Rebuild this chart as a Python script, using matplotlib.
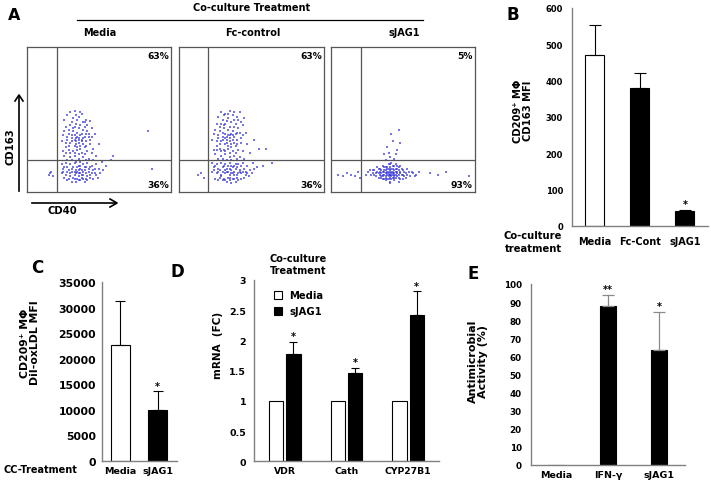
import matplotlib.pyplot as plt
from matplotlib.patches import Rectangle

plt.rcParams['font.family'] = ['DejaVu Sans']
plt.rcParams['font.weight'] = 'bold'

W, H = 711, 485

# ---- data ----
flow_groups = ['Media', 'Fc-control', 'sJAG1']
flow_upper = ['63%', '63%', '5%']
flow_lower = ['36%', '36%', '93%']
flow_gate_x = [21, 20, 20.5]
flow_gate_y = [22, 22, 22]

# flow dots, CD40 (x) vs CD163 (y), 0-100 plot units
media_pts = [
    (26, 50), (28, 53), (30, 55), (33, 56), (36, 52), (38, 54), (41, 50), (44, 49), (31, 48), (34, 47),
    (37, 46), (40, 45), (27, 45), (29, 43), (32, 42), (35, 41), (38, 40), (42, 42), (45, 44), (47, 40),
    (25, 39), (28, 38), (31, 37), (33, 36), (36, 36), (39, 37), (41, 35), (44, 36), (30, 34), (34, 33),
    (37, 32), (40, 31), (27, 31), (25, 28), (29, 29), (32, 28), (35, 29), (38, 27), (42, 28), (46, 30),
    (26, 25), (30, 24), (33, 25), (36, 23), (39, 24), (43, 23), (48, 25), (28, 22), (34, 21), (50, 33),
    (35, 38), (37, 39), (34, 35), (36, 34), (33, 39), (38, 35), (32, 44), (39, 48), (35, 50), (43, 38),
    (24, 19), (27, 20), (30, 19), (33, 20), (36, 18), (39, 19), (42, 20), (45, 18), (48, 19), (52, 21),
    (25, 16), (28, 17), (31, 16), (34, 15), (37, 16), (40, 15), (43, 16), (46, 15), (50, 16), (55, 18),
    (24, 13), (27, 12), (30, 13), (33, 12), (36, 13), (38, 12), (41, 13), (44, 12), (47, 13), (26, 10),
    (29, 9), (32, 10), (35, 9), (38, 10), (41, 9), (44, 10), (34, 7), (37, 8), (31, 7), (40, 7),
    (35, 14), (36, 15), (37, 13), (33, 14), (39, 14),
    (32, 51), (34, 53), (37, 55), (40, 48), (42, 46), (30, 46), (33, 45), (36, 44), (39, 43), (41, 40),
    (29, 40), (31, 39), (34, 37), (36, 37), (38, 36), (40, 38), (43, 40), (45, 38), (28, 36), (31, 35),
    (33, 32), (35, 31), (37, 30), (39, 33), (41, 32), (44, 33), (27, 34), (26, 42), (24, 35), (29, 32),
    (30, 27), (33, 27), (36, 26), (40, 26), (45, 27), (27, 27), (31, 22), (37, 21), (41, 22), (46, 22),
    (26, 17), (29, 15), (32, 17), (35, 17), (38, 15), (41, 17), (44, 17), (47, 16), (53, 15), (25, 14),
    (28, 14), (31, 14), (34, 13), (36, 11), (39, 12), (42, 11), (45, 13), (48, 12), (30, 11), (33, 9),
    (36, 8), (39, 9), (42, 8), (28, 8), (46, 9), (51, 13), (49, 10), (37, 18), (40, 17), (43, 14),
    (15, 12), (16, 13), (18, 11), (17, 14), (84, 42), (87, 16), (58, 22), (60, 25),
]
fc_pts = [
    (27, 52), (29, 55), (32, 54), (35, 56), (37, 53), (40, 52), (42, 55), (45, 51), (30, 50), (33, 49),
    (36, 48), (39, 47), (26, 47), (28, 45), (31, 44), (34, 43), (37, 42), (41, 44), (44, 46), (46, 41),
    (24, 40), (27, 39), (30, 38), (32, 37), (35, 37), (38, 38), (40, 36), (43, 37), (29, 35), (33, 34),
    (36, 33), (39, 32), (26, 32), (24, 29), (28, 30), (31, 29), (34, 30), (37, 28), (41, 29), (47, 33),
    (25, 26), (29, 25), (32, 26), (35, 24), (38, 25), (42, 24), (49, 27), (27, 23), (33, 22), (52, 36),
    (34, 39), (36, 40), (33, 36), (35, 35), (32, 40), (37, 36), (31, 46), (38, 50), (34, 51), (55, 30),
    (23, 20), (26, 19), (29, 20), (32, 19), (35, 20), (38, 18), (41, 19), (44, 20), (47, 18), (51, 20),
    (24, 17), (27, 16), (30, 17), (33, 16), (36, 15), (39, 16), (42, 15), (45, 16), (49, 15), (54, 17),
    (23, 14), (26, 13), (29, 12), (32, 13), (35, 12), (37, 13), (40, 12), (43, 13), (46, 12), (25, 9),
    (28, 10), (31, 9), (34, 10), (37, 9), (40, 10), (43, 9), (33, 7), (36, 6), (30, 8), (39, 7),
    (34, 14), (35, 16), (36, 13), (32, 15), (38, 14),
    (31, 53), (34, 54), (38, 55), (41, 50), (43, 48), (29, 47), (32, 47), (35, 45), (38, 45), (40, 41),
    (28, 42), (30, 41), (33, 38), (35, 39), (37, 39), (39, 40), (42, 41), (44, 39), (27, 37), (30, 36),
    (32, 33), (34, 32), (36, 31), (38, 34), (40, 33), (43, 34), (26, 35), (25, 43), (23, 36), (28, 33),
    (29, 28), (32, 28), (35, 27), (39, 27), (44, 28), (26, 29), (30, 23), (36, 22), (40, 23), (45, 23),
    (25, 18), (28, 15), (31, 18), (34, 18), (37, 17), (40, 17), (43, 18), (46, 14), (52, 16), (24, 15),
    (27, 14), (30, 14), (33, 14), (35, 10), (38, 12), (41, 13), (44, 14), (47, 13), (29, 11), (32, 8),
    (35, 8), (38, 9), (41, 8), (27, 8), (45, 10), (50, 13), (48, 11), (36, 18), (39, 19), (42, 14),
    (13, 12), (15, 13), (17, 10), (60, 30), (64, 20), (58, 18),
]
sjag_pts = [
    (26, 14), (28, 12), (30, 15), (31, 11), (33, 13), (34, 16), (35, 10), (36, 14), (37, 12), (38, 17),
    (39, 9), (40, 13), (41, 15), (42, 11), (43, 14), (44, 18), (45, 12), (46, 16), (47, 10), (48, 14),
    (49, 12), (50, 15), (51, 11), (52, 13), (54, 14), (55, 11), (57, 13), (59, 12), (61, 14), (24, 12),
    (32, 17), (36, 18), (40, 19), (42, 20), (45, 19), (48, 18), (38, 8), (41, 7), (44, 8), (47, 7),
    (39, 14), (40, 11), (42, 13), (43, 12), (41, 12), (44, 15), (37, 15), (38, 11), (46, 13), (42, 16),
    (35, 13), (33, 10), (36, 11), (39, 16), (45, 10), (47, 12), (49, 16), (52, 10), (29, 13), (27, 15),
    (41, 6), (43, 10), (40, 16), (44, 13), (46, 14), (38, 13), (37, 9), (50, 9), (53, 16), (34, 12),
    (30, 12), (32, 14), (33, 16), (35, 15), (36, 12), (37, 14), (38, 15), (39, 12), (40, 14), (41, 10),
    (42, 14), (43, 16), (44, 11), (45, 14), (46, 11), (47, 15), (48, 13), (50, 12), (51, 14), (53, 12),
    (39, 17), (41, 17), (43, 18), (46, 18), (38, 10), (40, 9), (42, 9), (44, 10), (36, 9), (48, 9),
    (34, 14), (31, 13), (29, 15), (56, 14), (58, 11), (40, 12), (42, 12), (44, 12), (39, 13), (43, 13),
    (45, 16), (37, 17), (41, 19), (35, 11), (47, 17),
    (38, 22), (41, 24), (44, 23), (40, 27), (46, 29), (39, 31), (43, 35), (42, 40), (47, 43), (45, 26),
    (37, 26), (48, 34),
    (5, 12), (8, 11), (11, 13), (14, 12), (17, 11), (19, 14), (20, 10),
    (69, 13), (74, 12), (80, 14), (96, 11),
]
flow_pts = [media_pts, fc_pts, sjag_pts]

b_groups = ['Media', 'Fc-Cont', 'sJAG1']
b_mfi = [472, 380, 40]
b_err = [80, 40, 5]
b_star = ['', '', '*']

c_groups = ['Media', 'sJAG1']
c_mfi = [22700, 10000]
c_err = [8700, 3600]
c_star = ['', '*']

d_genes = ['VDR', 'Cath', 'CYP27B1']
d_media = [1, 1, 1]
d_sjag = [1.78, 1.46, 2.42]
d_err = [0.2, 0.09, 0.39]

e_groups = ['Media', 'IFN-γ', 'sJAG1']
e_act = [0, 88, 63.5]
e_err = [0, 6, 21]
e_star = ['', '**', '*']


def box(x0, y0, x1, y1):
    return [x0 / W, 1 - y1 / H, (x1 - x0) / W, (y1 - y0) / H]


def fx(x):
    return x / W


def fy(y):
    return 1 - y / H


def bar_axes(ax, ticksize, catsize, pad_y, pad_x):
    for s in ['top', 'right']:
        ax.spines[s].set_visible(False)
    for s in ['left', 'bottom']:
        ax.spines[s].set_color('#808080')
        ax.spines[s].set_linewidth(1)
    ax.tick_params(axis='y', length=0, labelsize=ticksize, pad=pad_y)
    ax.tick_params(axis='x', length=0, labelsize=catsize, pad=pad_x)
    for t in ax.get_xticklabels() + ax.get_yticklabels():
        t.set_fontweight('bold')


def stars(ax, xs, tops, marks):
    for x, t, m in zip(xs, tops, marks):
        if m:
            ax.annotate(m, (x, t), xytext=(0, 0.5), textcoords='offset points',
                        ha='center', va='bottom', fontsize=7, fontweight='bold')


fig = plt.figure(figsize=(W / 100, H / 100), dpi=100)

# ---- A: flow plots ----
flow_boxes = [(27, 171), (179, 324), (331, 475)]
for i, (x0, x1) in enumerate(flow_boxes):
    ax = fig.add_axes(box(x0, 48, x1, 193))
    pts = flow_pts[i]
    ax.scatter([p[0] for p in pts], [p[1] for p in pts], s=1.5, marker='s',
               color='#3c3cdc', alpha=0.7, linewidths=0)
    ax.axvline(flow_gate_x[i], color='#555555', lw=0.9)
    ax.axhline(flow_gate_y[i], color='#555555', lw=0.9)
    ax.set_xlim(0, 100)
    ax.set_ylim(0, 100)
    ax.set_xticks([])
    ax.set_yticks([])
    for s in ax.spines.values():
        s.set_color('#555555')
        s.set_linewidth(0.9)
    ax.text(0.985, 0.975, flow_upper[i], transform=ax.transAxes, ha='right', va='top',
            fontsize=6.6, fontweight='bold')
    ax.text(0.985, 0.02, flow_lower[i], transform=ax.transAxes, ha='right', va='bottom',
            fontsize=6.6, fontweight='bold')
    fig.text(fx((x0 + x1) / 2 + 1), fy(33), flow_groups[i], ha='center', va='center',
             fontsize=7, fontweight='bold')

fig.text(fx(252), fy(8), 'Co-culture Treatment', ha='center', va='center',
         fontsize=7, fontweight='bold')
fig.add_artist(plt.Line2D([fx(77), fx(423)], [fy(21), fy(21)], color='black', lw=0.9))
fig.text(fx(14), fy(15), 'A', ha='center', va='center', fontsize=11.5, fontweight='bold')
fig.add_artist(plt.Line2D([fx(19), fx(19)], [fy(192), fy(97)], color='black', lw=1.2))
fig.add_artist(plt.Line2D([fx(15), fx(19), fx(23)], [fy(102), fy(96), fy(102)], color='black', lw=1.2))
fig.add_artist(plt.Line2D([fx(32), fx(116)], [fy(204), fy(204)], color='black', lw=1.2))
fig.add_artist(plt.Line2D([fx(110), fx(117), fx(110)], [fy(200), fy(204), fy(208)], color='black', lw=1.2))
fig.text(fx(10), fy(147), 'CD163', rotation=90, ha='center', va='center', fontsize=7.2, fontweight='bold')
fig.text(fx(62), fy(211), 'CD40', ha='center', va='center', fontsize=7.2, fontweight='bold')

# ---- B ----
ax = fig.add_axes(box(572, 9, 707.5, 227))
xb = list(range(len(b_groups)))
ax.bar(xb, b_mfi, width=0.42, color=['white', 'black', 'black'], edgecolor='black', linewidth=0.8)
ax.errorbar(xb, b_mfi, yerr=[[0] * 3, b_err], fmt='none', ecolor='black', elinewidth=0.8,
            capsize=4.3, capthick=0.8)
stars(ax, xb, [m + e for m, e in zip(b_mfi, b_err)], b_star)
ax.set_xlim(-0.5, 2.5)
ax.set_ylim(0, 600)
ax.set_yticks(range(0, 601, 100))
ax.set_xticks(xb)
ax.set_xticklabels(b_groups)
bar_axes(ax, 6, 7, 6.5, 7)
fig.text(fx(513), fy(15), 'B', ha='center', va='center', fontsize=12, fontweight='bold')
fig.text(fx(523), fy(111), 'CD209⁺ MΦ\nCD163 MFI', rotation=90, ha='center', va='center',
         fontsize=7.2, fontweight='bold', linespacing=1.0)
fig.text(fx(533), fy(236), 'Co-culture', ha='center', va='center', fontsize=7.2, fontweight='bold')
fig.text(fx(533), fy(249), 'treatment', ha='center', va='center', fontsize=7.2, fontweight='bold')

# ---- C ----
ax = fig.add_axes(box(101.5, 283.3, 176.5, 461.7))
xc = list(range(len(c_groups)))
ax.bar(xc, c_mfi, width=0.5, color=['white', 'black'], edgecolor='black', linewidth=0.8)
ax.errorbar(xc, c_mfi, yerr=[[0] * 2, c_err], fmt='none', ecolor='black', elinewidth=0.8,
            capsize=3.8, capthick=0.8)
stars(ax, xc, [m + e for m, e in zip(c_mfi, c_err)], c_star)
ax.set_xlim(-0.5, 1.5)
ax.set_ylim(0, 35000)
ax.set_yticks(range(0, 35001, 5000))
ax.set_xticks(xc)
ax.set_xticklabels(c_groups)
bar_axes(ax, 7.8, 6.8, 4, 3.5)
fig.text(fx(37), fy(268), 'C', ha='center', va='center', fontsize=12, fontweight='bold')
fig.text(fx(30), fy(343), 'CD209⁺ MΦ\nDiI-oxLDL MFI', rotation=90, ha='center', va='center',
         fontsize=7.8, fontweight='bold', linespacing=1.0)
fig.text(fx(40), fy(470), 'CC-Treatment', ha='center', va='center', fontsize=7, fontweight='bold')

# ---- D ----
ax = fig.add_axes(box(253.8, 281, 439, 462.3))
xd = list(range(len(d_genes)))
off = 0.14
ax.bar([x - off for x in xd], d_media, width=0.235, color='white', edgecolor='black', linewidth=0.8)
ax.bar([x + off for x in xd], d_sjag, width=0.235, color='black', edgecolor='black', linewidth=0.8)
ax.errorbar([x + off for x in xd], d_sjag, yerr=[[0] * 3, d_err], fmt='none', ecolor='black',
            elinewidth=0.8, capsize=3, capthick=0.8)
stars(ax, [x + off for x in xd], [m + e for m, e in zip(d_sjag, d_err)], ['*'] * 3)
ax.set_xlim(-0.5, 2.5)
ax.set_ylim(0, 3)
ax.set_yticks([0, 0.5, 1, 1.5, 2, 2.5, 3])
ax.set_yticklabels(['0', '0.5', '1', '1.5', '2', '2.5', '3'])
ax.set_xticks(xd)
ax.set_xticklabels(d_genes)
bar_axes(ax, 6.8, 6.7, 5.5, 3.5)
fig.text(fx(177), fy(272), 'D', ha='center', va='center', fontsize=12, fontweight='bold')
fig.text(fx(218), fy(345), 'mRNA  (FC)', rotation=90, ha='center', va='center',
         fontsize=7.5, fontweight='bold')
fig.text(fx(298), fy(265), 'Co-culture\nTreatment', ha='center', va='center',
         fontsize=7, fontweight='bold', linespacing=1.2)
# legend drawn by hand
for yy, col, lab in [(296, 'white', 'Media'), (312, 'black', 'sJAG1')]:
    fig.add_artist(Rectangle((fx(274), fy(yy + 4)), 8 / W, 8 / H, facecolor=col,
                             edgecolor='black', lw=0.8, transform=fig.transFigure))
    fig.text(fx(289), fy(yy), lab, ha='left', va='center', fontsize=7.2, fontweight='bold')

# ---- E ----
ax = fig.add_axes(box(530.7, 285, 685, 466))
xe = list(range(len(e_groups)))
ax.bar(xe, e_act, width=0.31, color='black', edgecolor='black', linewidth=0.8)
ax.errorbar(xe[1:], e_act[1:], yerr=[[0] * 2, e_err[1:]], fmt='none', ecolor='#8a8a8a',
            elinewidth=0.9, capsize=4, capthick=0.9)
stars(ax, xe, [m + e for m, e in zip(e_act, e_err)], e_star)
ax.set_xlim(-0.5, 2.5)
ax.set_ylim(0, 100)
ax.set_yticks(range(0, 101, 10))
ax.set_xticks(xe)
ax.set_xticklabels(e_groups)
bar_axes(ax, 6.3, 6.8, 6.5, 3.5)
fig.text(fx(473), fy(274), 'E', ha='center', va='center', fontsize=12, fontweight='bold')
fig.text(fx(478), fy(361), 'Antimicrobial\nActivity (%)', rotation=90, ha='center', va='center',
         fontsize=8, fontweight='bold', linespacing=1.05)

fig.savefig('out.png', dpi=100)
